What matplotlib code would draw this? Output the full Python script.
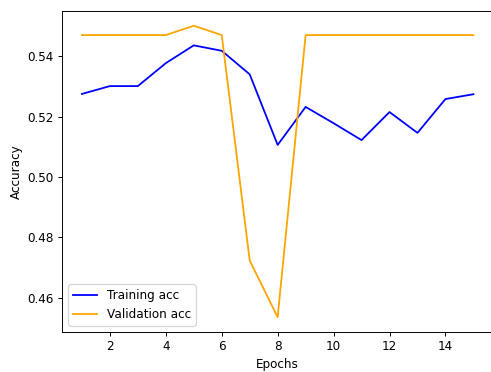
import matplotlib
matplotlib.use("Agg")
import matplotlib.pyplot as plt

epochs = list(range(1, 16))
train_acc = [0.5275, 0.5301, 0.5301, 0.5377, 0.5436, 0.5418, 0.5340, 0.5106,
             0.5232, 0.5178, 0.5122, 0.5215, 0.5146, 0.5258, 0.5274]
val_acc = [0.5470, 0.5470, 0.5470, 0.5470, 0.5501, 0.5470, 0.4723, 0.4535,
           0.5470, 0.5470, 0.5470, 0.5470, 0.5470, 0.5470, 0.5470]

DPI = 86.5
fig = plt.figure(figsize=(491 / DPI, 372 / DPI), dpi=DPI)
ax = fig.add_axes([0.127, 0.108, 0.877, 0.862])

ax.plot(epochs, train_acc, color="blue", label="Training acc")
ax.plot(epochs, val_acc, color="orange", label="Validation acc")
ax.set_xlabel("Epochs")
ax.set_ylabel("Accuracy")
ax.legend(loc="lower left")
# the frame is cut off on the right edge
ax.spines["right"].set_visible(False)

fig.savefig("out.png", dpi=DPI)
